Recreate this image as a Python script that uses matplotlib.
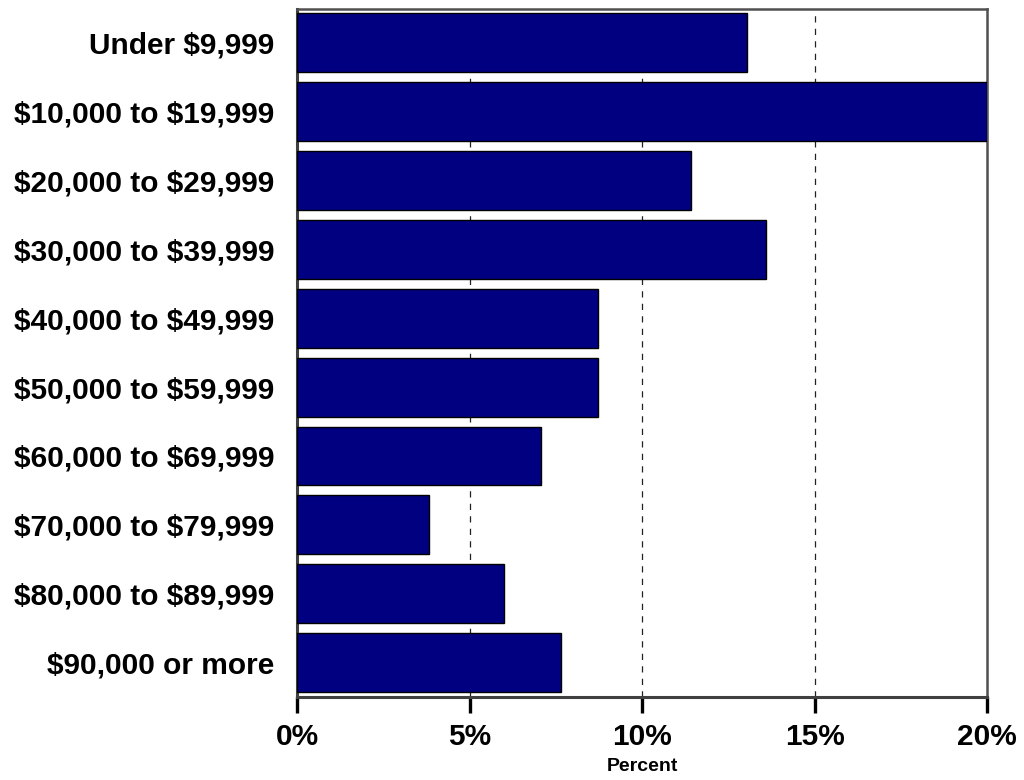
import matplotlib.pyplot as plt
from matplotlib.ticker import FuncFormatter

# household income brackets and share of households (percent)
brackets = [
    "Under $9,999",
    "$10,000 to $19,999",
    "$20,000 to $29,999",
    "$30,000 to $39,999",
    "$40,000 to $49,999",
    "$50,000 to $59,999",
    "$60,000 to $69,999",
    "$70,000 to $79,999",
    "$80,000 to $89,999",
    "$90,000 or more",
]
percents = [13.05, 20.0, 11.42, 13.59, 8.72, 8.72, 7.06, 3.82, 5.99, 7.65]
x_ticks = [0, 5, 10, 15, 20]

plt.rcParams["font.family"] = ["Liberation Sans", "DejaVu Sans"]
plt.rcParams["font.weight"] = "bold"
plt.rcParams["text.parse_math"] = False

fig = plt.figure(figsize=(10.24, 7.8), dpi=100)
ax = fig.add_axes([0.290, 0.1064, 0.674, 0.8821])

pos = list(range(len(brackets)))
ax.barh(pos, percents, height=0.855, color="#000080",
        edgecolor="black", linewidth=1.0, zorder=3)

ax.set_xlim(0, 20)
ax.set_ylim(9.5, -0.49)

ax.set_xticks(x_ticks)
ax.xaxis.set_major_formatter(FuncFormatter(lambda v, _: "%d%%" % v))
ax.set_yticks(pos)
ax.set_yticklabels(brackets)

for g in x_ticks[1:-1]:
    ax.axvline(g, color="#222222", linewidth=0.9, dashes=(5, 5), zorder=1)

ax.tick_params(axis="x", direction="out", length=11.5, width=2.4,
               color="black", labelsize=21.5, pad=7)
ax.tick_params(axis="y", length=0, labelsize=21.5, pad=16)
for lbl in ax.get_xticklabels() + ax.get_yticklabels():
    lbl.set_fontweight("bold")

for side in ["left", "bottom"]:
    ax.spines[side].set_color("#404040")
    ax.spines[side].set_linewidth(2.2)
for side in ["top", "right"]:
    ax.spines[side].set_color("#505050")
    ax.spines[side].set_linewidth(1.8)

ax.set_xlabel("Percent", fontsize=14, fontweight="bold", labelpad=5)

fig.savefig("out.png", dpi=100)
